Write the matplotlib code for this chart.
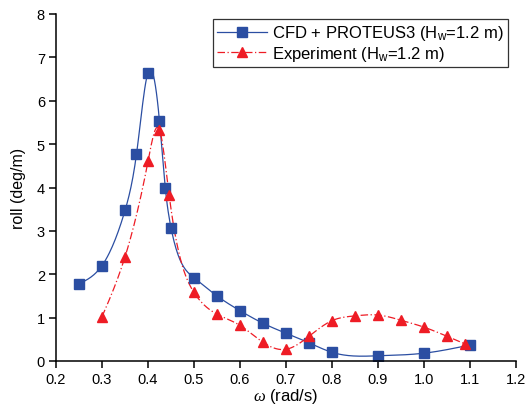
import numpy as np
import matplotlib
matplotlib.use("Agg")
import matplotlib.pyplot as plt

plt.rcParams['font.family'] = ['Liberation Sans', 'DejaVu Sans']
plt.rcParams['mathtext.fontset'] = 'custom'
plt.rcParams['mathtext.rm'] = 'Liberation Sans'
plt.rcParams['mathtext.it'] = 'Liberation Serif:italic'

# data
cfd_w = [0.25, 0.30, 0.35, 0.375, 0.40, 0.425, 0.4375, 0.45, 0.50, 0.55, 0.60,
         0.65, 0.70, 0.75, 0.80, 0.90, 1.00, 1.10]
cfd_roll = [1.78, 2.20, 3.47, 4.77, 6.65, 5.53, 4.00, 3.07, 1.92, 1.50, 1.16,
            0.87, 0.64, 0.42, 0.20, 0.12, 0.18, 0.37]
exp_w = [0.30, 0.35, 0.40, 0.425, 0.446, 0.50, 0.55, 0.60, 0.65, 0.70, 0.75,
         0.80, 0.85, 0.90, 0.95, 1.00, 1.05, 1.09]
exp_roll = [1.02, 2.40, 4.60, 5.33, 3.82, 1.58, 1.08, 0.82, 0.43, 0.27, 0.57,
            0.93, 1.04, 1.06, 0.94, 0.78, 0.57, 0.39]

BLUE = '#2b4ea2'
RED = '#ee1c25'


def spline(x, y, n=400):
    # natural cubic spline through the points, only for drawing the curve
    x = np.asarray(x, float)
    y = np.asarray(y, float)
    m = len(x)
    h = np.diff(x)
    A = np.zeros((m, m))
    b = np.zeros(m)
    A[0, 0] = A[-1, -1] = 1
    for i in range(1, m - 1):
        A[i, i - 1] = h[i - 1]
        A[i, i] = 2 * (h[i - 1] + h[i])
        A[i, i + 1] = h[i]
        b[i] = 6 * ((y[i + 1] - y[i]) / h[i] - (y[i] - y[i - 1]) / h[i - 1])
    M = np.linalg.solve(A, b)
    xs = np.linspace(x[0], x[-1], n)
    k = np.clip(np.searchsorted(x, xs) - 1, 0, m - 2)
    t0 = x[k + 1] - xs
    t1 = xs - x[k]
    hk = h[k]
    ys = (M[k] * t0**3 + M[k + 1] * t1**3) / (6 * hk) \
        + (y[k] / hk - M[k] * hk / 6) * t0 + (y[k + 1] / hk - M[k + 1] * hk / 6) * t1
    return xs, ys


fig = plt.figure(figsize=(5.26, 4.06), dpi=100)
ax = fig.add_axes([56 / 526, 1 - 362 / 406, 460 / 526, 347 / 406])

xs, ys = spline(cfd_w, cfd_roll)
ax.plot(xs, ys, color=BLUE, lw=0.9)
xs, ys = spline(exp_w, exp_roll)
ax.plot(xs, ys, color=RED, lw=0.9, ls=(0, (6, 2, 1, 2)))
ax.plot(cfd_w, cfd_roll, 's', color=BLUE, ms=6.5, mec=BLUE)
ax.plot(exp_w, exp_roll, '^', color=RED, ms=7, mec=RED)

# legend proxies
l1, = ax.plot([], [], color=BLUE, lw=0.9, marker='s', ms=6.5)
l2, = ax.plot([], [], color=RED, lw=0.9, ls=(0, (6, 2, 1, 2)), marker='^', ms=7)
leg = ax.legend([l1, l2],
                [r'CFD + PROTEUS3 (H$_{\mathregular{w}}$=1.2 m)',
                 r'Experiment (H$_{\mathregular{w}}$=1.2 m)'],
                loc='upper right', bbox_to_anchor=(0.982, 0.985), fontsize=12,
                frameon=True, fancybox=False, edgecolor='black', handlelength=3.0,
                borderpad=0.25, labelspacing=0.1, handletextpad=0.3, borderaxespad=0)
leg.get_frame().set_linewidth(0.9)

ax.set_xlim(0.2, 1.2)
ax.set_ylim(0, 8)
ax.set_xticks(np.arange(0.2, 1.21, 0.1))
ax.set_xticklabels(['0.2', '0.3', '0.4', '0.5', '0.6', '0.7', '0.8', '0.9', '1.0', '1.1', '1.2'])
ax.set_yticks(range(0, 9))
ax.spines['top'].set_visible(False)
ax.spines['right'].set_visible(False)
ax.spines['left'].set_linewidth(1.1)
ax.spines['bottom'].set_linewidth(1.1)
ax.tick_params(direction='out', length=5, width=1.1, labelsize=10.5, pad=3)
ax.set_xlabel(r'$\omega$ (rad/s)', fontsize=12, labelpad=0)
ax.set_ylabel('roll (deg/m)', fontsize=11.5, labelpad=8)

fig.savefig('out.png', dpi=100)
